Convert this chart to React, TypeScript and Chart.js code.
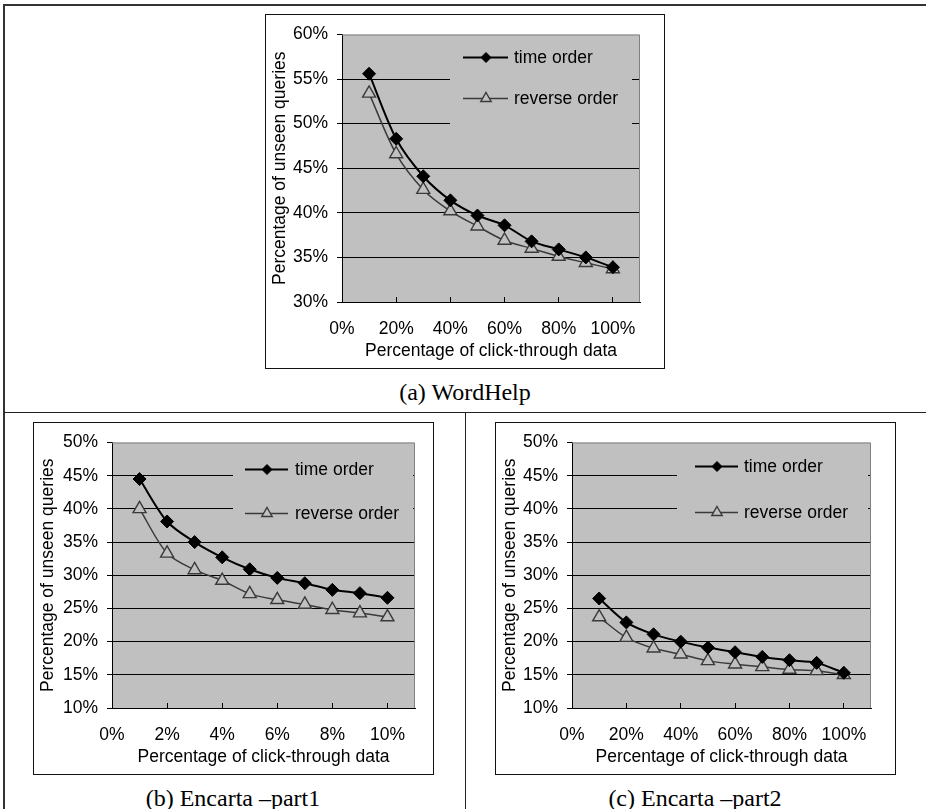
import React, { useEffect, useRef } from 'react';
import { Chart, registerables } from 'chart.js';
Chart.register(...registerables);

// ---------- data ----------
const seriesLabels = ['time order', 'reverse order'];
const yAxisTitle = 'Percentage of unseen queries';
const xAxisTitle = 'Percentage of click-through data';

// (a) WordHelp
const wordHelpX = [10, 20, 30, 40, 50, 60, 70, 80, 90, 100];
const wordHelpTime = [55.6, 48.3, 44.1, 41.4, 39.7, 38.6, 36.8, 35.9, 35.0, 33.9];
const wordHelpReverse = [53.4, 46.6, 42.6, 40.2, 38.5, 36.9, 36.0, 35.1, 34.4, 33.7];
const wordHelpXTicks = [0, 20, 40, 60, 80, 100];
const wordHelpYTicks = [30, 35, 40, 45, 50, 55, 60];

// (b) Encarta – part1
const part1X = [1, 2, 3, 4, 5, 6, 7, 8, 9, 10];
const part1Time = [44.5, 38.1, 35.0, 32.7, 30.9, 29.6, 28.8, 27.8, 27.3, 26.6];
const part1Reverse = [40.0, 33.3, 30.8, 29.2, 27.2, 26.3, 25.6, 24.8, 24.3, 23.7];
const part1XTicks = [0, 2, 4, 6, 8, 10];

// (c) Encarta – part2
const part2X = [10, 20, 30, 40, 50, 60, 70, 80, 90, 100];
const part2Time = [26.5, 22.9, 21.1, 20.0, 19.1, 18.4, 17.7, 17.2, 16.8, 15.3];
const part2Reverse = [23.7, 20.6, 19.0, 18.1, 17.1, 16.6, 16.2, 15.8, 15.6, 15.0];
const part2XTicks = [0, 20, 40, 60, 80, 100];

const encartaYTicks = [10, 15, 20, 25, 30, 35, 40, 45, 50];

const captions = ['(a) WordHelp', '(b) Encarta \u2013part1', '(c) Encarta \u2013part2'];

// ---------- styling ----------
const SANS = '"Liberation Sans", Arial, Helvetica, sans-serif';
const SERIF = '"Liberation Serif", "Times New Roman", Times, serif';
const FS = 17.5;
const PLOT_BG = '#c0c0c0';

type Legend = { bgL: number; bgR: number; bgB: number; lineL: number; lineR: number; mark: number; text: number; rows: [number, number] };
type Spec = {
  box: [number, number, number, number]; // left, top, right, bottom (page)
  plot: [number, number, number, number]; // left, top, right, bottom (page)
  xs: number[]; time: number[]; reverse: number[];
  xTicks: number[]; yTicks: number[]; xMax: number;
  legend: Legend;
};

function drawMarker(ctx: CanvasRenderingContext2D, style: string, x: number, y: number, r: number, fill: string, stroke: string, lw: number) {
  ctx.save();
  ctx.beginPath();
  if (style === 'rectRot') {
    ctx.moveTo(x - r, y); ctx.lineTo(x, y - r); ctx.lineTo(x + r, y); ctx.lineTo(x, y + r); ctx.closePath();
  } else {
    for (let k = 0; k < 3; k++) {
      const a = (k * 2 * Math.PI) / 3;
      const px = x + Math.sin(a) * r, py = y - Math.cos(a) * r;
      if (k === 0) ctx.moveTo(px, py); else ctx.lineTo(px, py);
    }
    ctx.closePath();
  }
  ctx.fillStyle = fill; ctx.fill();
  ctx.strokeStyle = stroke; ctx.lineWidth = lw; ctx.stroke();
  ctx.restore();
}

function Panel({ spec }: { spec: Spec }) {
  const ref = useRef<HTMLCanvasElement | null>(null);
  const [bl, bt, br, bb] = spec.box;
  const [pl, pt, pr, pb] = spec.plot;
  const cw = br - bl - 2;
  const ch = bb - bt - 2;
  useEffect(() => {
    const canvas = ref.current;
    if (!canvas) return;
    const yMin = spec.yTicks[0];
    const yMax = spec.yTicks[spec.yTicks.length - 1];
    const lg = spec.legend;
    const plugin = {
      id: 'panelDecor',
      beforeDraw(chart: any) {
        const { ctx, chartArea: a } = chart;
        ctx.save();
        ctx.fillStyle = PLOT_BG;
        ctx.fillRect(a.left, a.top, a.right - a.left, a.bottom - a.top);
        ctx.restore();
      },
      beforeDatasetsDraw(chart: any) {
        const { ctx, chartArea: a } = chart;
        ctx.save();
        // legend background hides gridlines
        ctx.fillStyle = PLOT_BG;
        ctx.fillRect(a.left + lg.bgL, a.top + 1, lg.bgR - lg.bgL, lg.bgB);
        // plot border (top, right)
        ctx.strokeStyle = '#808080';
        ctx.lineWidth = 1;
        ctx.beginPath();
        ctx.moveTo(a.left, a.top + 0.5);
        ctx.lineTo(a.right - 0.5, a.top + 0.5);
        ctx.lineTo(a.right - 0.5, a.bottom);
        ctx.stroke();
        // legend entries
        chart.data.datasets.forEach((ds: any, i: number) => {
          const y = a.top + lg.rows[i];
          ctx.strokeStyle = ds.borderColor;
          ctx.lineWidth = ds.borderWidth;
          ctx.beginPath();
          ctx.moveTo(a.left + lg.lineL, y);
          ctx.lineTo(a.left + lg.lineR, y);
          ctx.stroke();
          drawMarker(ctx, ds.pointStyle, a.left + lg.mark, y, i === 0 ? 5 : 6, ds.pointBackgroundColor, ds.pointBorderColor, ds.pointBorderWidth);
          ctx.fillStyle = '#000';
          ctx.font = `${FS}px ${SANS}`;
          ctx.textBaseline = 'middle';
          ctx.textAlign = 'left';
          ctx.fillText(ds.label, a.left + lg.text, y + 1);
        });
        ctx.restore();
      },
    };
    const chart = new Chart(canvas, {
      type: 'line',
      data: {
        datasets: [
          {
            label: seriesLabels[0],
            data: spec.xs.map((x, i) => ({ x, y: spec.time[i] })),
            borderColor: '#000', borderWidth: 2,
            pointStyle: 'rectRot', pointRadius: 6.5,
            pointBackgroundColor: '#000', pointBorderColor: '#000', pointBorderWidth: 1,
            tension: 0.3, cubicInterpolationMode: 'default',
          },
          {
            label: seriesLabels[1],
            data: spec.xs.map((x, i) => ({ x, y: spec.reverse[i] })),
            borderColor: '#3a3a3a', borderWidth: 1.5,
            pointStyle: 'triangle', pointRadius: 7.5,
            pointBackgroundColor: PLOT_BG, pointBorderColor: '#3a3a3a', pointBorderWidth: 1.4,
            tension: 0.3,
          },
        ],
      } as any,
      options: {
        animation: false,
        responsive: false,
        devicePixelRatio: 1,
        layout: { padding: { top: pt - (bt + 1), right: (br - 1) - pr, left: 0, bottom: 0 } },
        plugins: { legend: { display: false }, tooltip: { enabled: false } },
        scales: {
          x: {
            type: 'linear', min: 0, max: spec.xMax,
            afterBuildTicks: (s: any) => { s.ticks = spec.xTicks.map((v) => ({ value: v })); },
            afterFit: (s: any) => { s.height = (bb - 1) - pb; },
            grid: { drawOnChartArea: false, tickLength: -5, tickColor: '#000', lineWidth: 1 },
            border: { color: '#000', width: 1 },
            ticks: { color: '#000', font: { family: SANS, size: FS }, padding: 21.5, maxRotation: 0, autoSkip: false, callback: (v: any) => `${v}%` },
            title: { display: true, text: xAxisTitle, color: '#000', font: { family: SANS, size: FS }, padding: { top: 0, bottom: 6.5 } },
          },
          y: {
            type: 'linear', min: yMin, max: yMax,
            afterBuildTicks: (s: any) => { s.ticks = spec.yTicks.map((v) => ({ value: v })); },
            afterFit: (s: any) => { s.width = pl - (bl + 1); },
            grid: {
              color: (c: any) => (c.tick && c.tick.value === yMax ? 'rgba(0,0,0,0)' : '#000'),
              tickColor: '#000', tickLength: 5, lineWidth: 1,
            },
            border: { color: '#000', width: 1 },
            ticks: { color: '#000', font: { family: SANS, size: FS }, padding: 9, callback: (v: any) => `${v}%` },
            title: { display: true, text: yAxisTitle, color: '#000', font: { family: SANS, size: FS }, padding: { top: 3.5, bottom: 0 } },
          },
        },
      } as any,
      plugins: [plugin as any],
    });
    return () => chart.destroy();
  }, [spec]);
  return (
    <div style={{ position: 'absolute', left: bl, top: bt, width: br - bl - 2, height: bb - bt - 2, border: '1px solid #111', background: '#fff' }}>
      <canvas ref={ref} width={cw} height={ch} style={{ display: 'block', width: cw, height: ch }} />
    </div>
  );
}

const specA: Spec = {
  box: [265, 14, 665, 369], plot: [342, 32, 640, 302],
  xs: wordHelpX, time: wordHelpTime, reverse: wordHelpReverse,
  xTicks: wordHelpXTicks, yTicks: wordHelpYTicks, xMax: 110,
  legend: { bgL: 108, bgR: 290, bgB: 103, lineL: 121, lineR: 166, mark: 144, text: 172, rows: [23, 64] },
};
const specB: Spec = {
  box: [33, 422, 434, 775], plot: [112, 438, 415, 708],
  xs: part1X, time: part1Time, reverse: part1Reverse,
  xTicks: part1XTicks, yTicks: encartaYTicks, xMax: 11,
  legend: { bgL: 121, bgR: 301, bgB: 85, lineL: 133, lineR: 176, mark: 155, text: 183, rows: [27, 71] },
};
const specC: Spec = {
  box: [495, 422, 896, 775], plot: [572, 438, 871, 708],
  xs: part2X, time: part2Time, reverse: part2Reverse,
  xTicks: part2XTicks, yTicks: encartaYTicks, xMax: 110,
  legend: { bgL: 105, bgR: 296, bgB: 85, lineL: 123, lineR: 166, mark: 145, text: 172, rows: [24, 70] },
};

function Caption({ text, cx, cy }: { text: string; cx: number; cy: number }) {
  return (
    <div style={{ position: 'absolute', left: cx - 200, top: cy - 14, width: 400, height: 28, lineHeight: '28px', textAlign: 'center', fontFamily: SERIF, fontSize: 24, color: '#000', whiteSpace: 'nowrap' }}>
      {text}
    </div>
  );
}

export default function App() {
  return (
    <div style={{ position: 'absolute', left: 0, top: 0, width: 926, height: 809, background: '#fff', overflow: 'hidden' }}>
      {/* outer frame */}
      <div style={{ position: 'absolute', left: 3, top: 4, width: 923, height: 2, background: '#333' }} />
      <div style={{ position: 'absolute', left: 3, top: 4, width: 2, height: 805, background: '#333' }} />
      {/* separators */}
      <div style={{ position: 'absolute', left: 4, top: 412, width: 922, height: 1, background: '#222' }} />
      <div style={{ position: 'absolute', left: 465, top: 412, width: 1, height: 397, background: '#222' }} />
      <Panel spec={specA} />
      <Panel spec={specB} />
      <Panel spec={specC} />
      <Caption text={captions[0]} cx={465} cy={392} />
      <Caption text={captions[1]} cx={233} cy={798} />
      <Caption text={captions[2]} cx={695} cy={798} />
    </div>
  );
}
